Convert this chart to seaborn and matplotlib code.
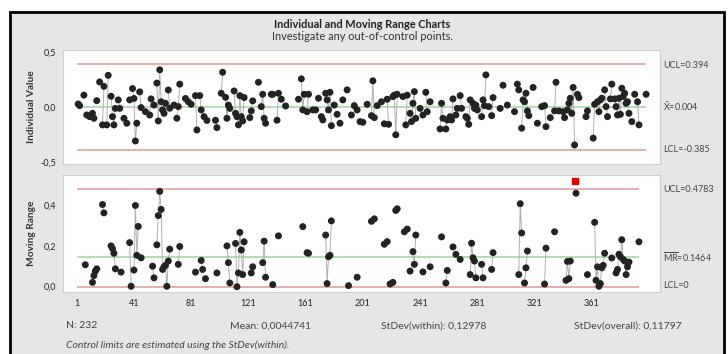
import numpy as np
import pandas as pd
import matplotlib
matplotlib.use('Agg')
import matplotlib.pyplot as plt
import seaborn as sns
from matplotlib.patches import Rectangle
from matplotlib.ticker import FuncFormatter

obs_i = [2, 3, 6, 8, 10, 12, 13, 15, 17, 19, 20, 22, 23, 25, 26, 27, 28, 30, 31, 34, 36, 38, 40, 41, 42, 43,
         45, 46, 49, 52, 53, 55, 57, 58, 59, 60, 61, 62, 63, 65, 66, 69, 71, 72, 73, 77, 79, 81, 84, 85, 87, 88,
         90, 92,
         98, 99, 102, 103, 105, 106, 107, 108, 111, 112, 113, 114, 115, 116, 117, 118, 122, 123, 124, 128, 130,
         131, 132, 133, 137, 138, 141, 142, 144, 147, 156, 158, 159, 160, 162, 163, 166, 168, 170, 172, 173, 175,
         176, 177, 178, 179, 181, 183, 185, 187, 190, 193, 195, 197, 199,
         201, 204, 207, 208, 209, 211, 214, 216, 218, 219, 222, 223, 224, 225, 229, 231, 232, 234, 235, 236, 237,
         238, 241, 243, 245, 246, 248, 255, 256, 257, 259, 260, 262, 263, 264, 266, 267, 269, 270, 273, 274, 275,
         276, 278, 279, 280, 281, 284, 285, 286, 287, 289, 291, 292, 297, 299, 302,
         307, 309, 310, 312, 313, 314, 315, 316, 317, 320, 323, 326, 328, 329, 332, 335, 336, 338, 341, 342, 344,
         345, 346, 347, 348, 349, 351, 352, 357, 358, 362, 363, 365, 366, 367, 368, 370, 371, 372, 374, 375, 377,
         378, 379, 380, 381, 382, 383, 384, 385, 386, 387, 389, 391, 393, 394, 399]
val_i = [0.03, 0.015, 0.11, -0.07, -0.085, -0.055, -0.10, 0.06, 0.23, -0.16, 0.19, -0.16, 0.29, 0.10, -0.085,
         -0.16, -0.01, 0.067, -0.01, -0.10, -0.145, 0.067, 0.17, 0.08, -0.306, -0.145, 0.14, -0.003, -0.04, -0.07,
         0.076, 0.02, 0.22, -0.124, 0.34, 0.05, -0.024, -0.055, 0.036, 0.157, -0.009, 0.02, -0.10, 0.006, 0.21,
         0.08, 0.05, 0.027, 0.106, -0.206, 0.106, -0.024, -0.085, -0.12,
         -0.118, -0.185, 0.127, 0.318, 0.09, -0.10, 0.02, -0.01, 0.148, -0.055, -0.085, -0.16, 0.106, -0.085,
         -0.124, 0.088, -0.094, -0.033, 0.058, 0.227, 0.006, 0.118, -0.10, -0.145, 0.118, 0.118, -0.118, 0.127,
         0.073, 0.012, 0.073, 0.258, -0.024, 0.118, -0.04, 0.118, -0.024, -0.024, 0.082, -0.085, -0.115, 0.127,
         0.067, -0.024, 0.136, -0.167, 0.02, -0.064, -0.145, 0.067, 0.158, -0.07, 0.015, -0.024, -0.13,
         -0.136, 0.027, -0.076, 0.24, -0.094, 0.015, 0.05, -0.15, 0.073, -0.155, 0.097, 0.11, -0.25, 0.118, 0.097,
         -0.16, 0.11, -0.055, -0.13, 0.036, 0.142, -0.10, -0.01, -0.07, 0.136, -0.04, 0.05, -0.197, 0.036, -0.10,
         -0.197, -0.115, -0.085, -0.115, 0.076, -0.07, -0.01, 0.106, -0.01, -0.085, -0.10, -0.155, 0.067, 0.036,
         -0.01, 0.02, -0.024, -0.085, 0.067, 0.015, 0.294, 0.006, -0.076, 0.088, -0.01, 0.20, 0.02,
         -0.04, 0.21, 0.158, -0.19, 0.067, 0.05, 0.127, -0.033, -0.076, 0.18, -0.145, 0.006, 0.015, -0.176, -0.094,
         -0.033, 0.227, -0.033, -0.04, -0.094, -0.024, 0.036, 0.082, -0.055, 0.18, -0.342, 0.118, 0.088, -0.085,
         -0.033, -0.28, 0.027, 0.05, -0.04, 0.067, 0.082, 0.158, 0.006, -0.085, 0.076, 0.21, 0.076, 0.006, -0.07,
         0.082, -0.064, 0.173, 0.097, 0.127, 0.036, 0.05, -0.055, -0.13, 0.118, 0.05, -0.16, 0.118]

# Moving ranges (observation, value)
obs_mr = [7, 12, 13, 14, 15, 19, 20, 25, 26, 27, 28, 32, 38, 39, 41, 42, 43, 44, 46, 54, 55, 57, 58, 59, 60, 61,
          62, 63, 64, 65, 66, 72, 73, 84, 88, 89, 91,
          99, 106, 107, 108, 112, 113, 114, 115, 116, 117, 118, 123, 124, 131, 132, 133, 138, 142, 159, 162, 163,
          175, 176, 177, 178, 179, 191, 197,
          207, 209, 216, 218, 220, 222, 224, 225, 230, 232, 234, 236, 237, 238, 243, 248, 256, 259, 260, 264, 266,
          269, 276, 277, 278, 279, 280, 284, 285, 291, 292,
          310, 311, 312, 314, 315, 316, 328, 329, 335, 343, 344, 345, 346, 350, 358, 363, 364, 365, 366, 367, 368,
          369, 370, 375, 378, 379, 380, 381, 382, 383, 384, 385, 386, 387, 394]
val_mr = [0.107, 0.021, 0.054, 0.076, 0.087, 0.401, 0.36, 0.199, 0.186, 0.163, 0.087, 0.071, 0.215, 0.002, 0.081,
          0.396, 0.153, 0.294, 0.141, 0.10, 0.043, 0.204, 0.347, 0.465, 0.377, 0.084, 0.097, 0.104, 0.002, 0.125,
          0.183, 0.109, 0.196, 0.071, 0.128, 0.084, 0.039,
          0.067, 0.199, 0.117, 0.018, 0.211, 0.0, 0.067, 0.265, 0.179, 0.059, 0.219, 0.067, 0.097, 0.117, 0.222,
          0.046, 0.01, 0.248, 0.293, 0.166, 0.163, 0.252, 0.015, 0.146, 0.153, 0.321, 0.005, 0.046,
          0.319, 0.331, 0.207, 0.22, 0.013, 0.021, 0.372, 0.38, 0.268, 0.281, 0.076, 0.171, 0.109, 0.252, 0.072,
          0.097, 0.243, 0.018, 0.079, 0.194, 0.158, 0.133, 0.059, 0.212, 0.141, 0.125, 0.043, 0.109, 0.043, 0.084,
          0.166,
          0.059, 0.405, 0.262, 0.018, 0.092, 0.174, 0.013, 0.188, 0.268, 0.031, 0.123, 0.039, 0.125, 0.456, 0.059,
          0.314, 0.031, 0.097, 0.002, 0.015, 0.092, 0.104, 0.163, 0.14, 0.067, 0.084, 0.158, 0.146, 0.229, 0.133,
          0.125, 0.059, 0.097, 0.12, 0.219]

# Out-of-control moving range
obs_ooc = [349]
val_ooc = [0.516]

# Control limits
i_ucl, i_cl, i_lcl = 0.394, 0.004, -0.385
mr_ucl, mr_cl, mr_lcl = 0.4783, 0.1464, 0.0
x_ticks = [1, 41, 81, 121, 161, 201, 241, 281, 321, 361]

sns.set_style("white")
plt.rcParams['font.family'] = ['Lato', 'DejaVu Sans']

W, H = 728, 354
fig = plt.figure(figsize=(W / 100, H / 100), dpi=100)
fig.patch.set_facecolor('white')


def fx(px):
    return px / W


def fy(py):
    return 1 - py / H


# Grey frame with black border, kept behind the axes
fig.patches.append(Rectangle((fx(10), fy(356)), fx(724) - fx(10), fy(12) - fy(356),
                             transform=fig.transFigure, facecolor='#e6e6e6',
                             edgecolor='black', linewidth=2, zorder=-5))


def segments(obs, vals):
    # consecutive observations are joined by a line, gaps break it
    df = pd.DataFrame({'obs': obs, 'value': vals})
    df['seg'] = (df['obs'].diff() > 1).cumsum()
    return df


def draw_chart(ax, obs, vals, ucl, cl, lcl):
    df = segments(obs, vals)
    sns.lineplot(data=df, x='obs', y='value', units='seg', estimator=None, color='#b0b0b0',
                 linewidth=0.7, ax=ax, zorder=2)
    ax.hlines([ucl, lcl], 1, max(obs), color='#dc9a9a', linewidth=1.1, zorder=1)
    ax.hlines(cl, 1, max(obs), color='#9fd49f', linewidth=1.1, zorder=1)
    sns.scatterplot(data=df, x='obs', y='value', color='#232323', s=25, edgecolor='none', ax=ax, zorder=3)
    ax.set_xlim(-8.6, 408.7)
    ax.set_xlabel('')
    ax.set_ylabel('')
    ax.set_facecolor('white')
    for s in ax.spines.values():
        s.set_color('#cfcfcf')
        s.set_linewidth(0.8)
    ax.tick_params(axis='both', length=3, width=0.6, color='#888888', labelsize=6.5,
                   labelcolor='#222222', pad=2)
    ax.yaxis.set_major_formatter(FuncFormatter(lambda y, _: '{:.1f}'.format(y).replace('.', ',')))


# Individual chart
ax1 = fig.add_axes([fx(63), fy(164), fx(660) - fx(63), fy(50) - fy(164)])
draw_chart(ax1, obs_i, val_i, i_ucl, i_cl, i_lcl)
ax1.set_ylim(-0.515, 0.52)
ax1.set_yticks([-0.5, 0.0, 0.5])
ax1.set_xticks([])

# Moving range chart
ax2 = fig.add_axes([fx(63), fy(292), fx(660) - fx(63), fy(175) - fy(292)])
draw_chart(ax2, obs_mr, val_mr, mr_ucl, mr_cl, mr_lcl)
ax2.scatter(obs_ooc, val_ooc, marker='s', color='#e00000', s=18, zorder=4)
ax2.set_ylim(-0.026, 0.545)
ax2.set_yticks([0.0, 0.2, 0.4])
ax2.set_xticks(x_ticks)
ax2.set_xticklabels([str(t) for t in x_ticks])

# Titles
fig.text(fx(362), fy(24), 'Individual and Moving Range Charts', ha='center', va='center',
         fontsize=7.9, fontweight='bold', color='#222222')
fig.text(fx(362), fy(37), 'Investigate any out-of-control points.', ha='center', va='center',
         fontsize=7.9, color='#333333')

# Axis labels
fig.text(fx(31), fy(107), 'Individual Value', rotation=90, ha='center', va='center',
         fontsize=7.3, fontweight='bold', color='#333333')
fig.text(fx(31), fy(233), 'Moving Range', rotation=90, ha='center', va='center',
         fontsize=7.3, fontweight='bold', color='#333333')

# Limit labels
lab = dict(fontsize=6.5, color='#444444', ha='left', va='center')
fig.text(fx(663), fy(65), 'UCL=0.394', **lab)
fig.text(fx(663), fy(107), r'$\mathregular{\bar{X}}$=0.004', **lab)
fig.text(fx(663), fy(150), 'LCL=-0.385', **lab)
fig.text(fx(663), fy(189), 'UCL=0.4783', **lab)
fig.text(fx(663), fy(257), r'$\mathregular{\overline{MR}}$=0.1464', **lab)
fig.text(fx(663), fy(286), 'LCL=0', **lab)

# Summary stats
st = dict(fontsize=7.5, color='#444444', ha='left', va='center')
fig.text(fx(66), fy(326), 'N: 232', **st)
fig.text(fx(230), fy(326), 'Mean: 0,0044741', **st)
fig.text(fx(381), fy(326), 'StDev(within): 0,12978', **st)
fig.text(fx(574), fy(326), 'StDev(overall): 0,11797', **st)
fig.text(fx(66), fy(345), 'Control limits are estimated using the StDev(within).', fontstyle='italic', **st)

fig.savefig('out.png', dpi=100)
